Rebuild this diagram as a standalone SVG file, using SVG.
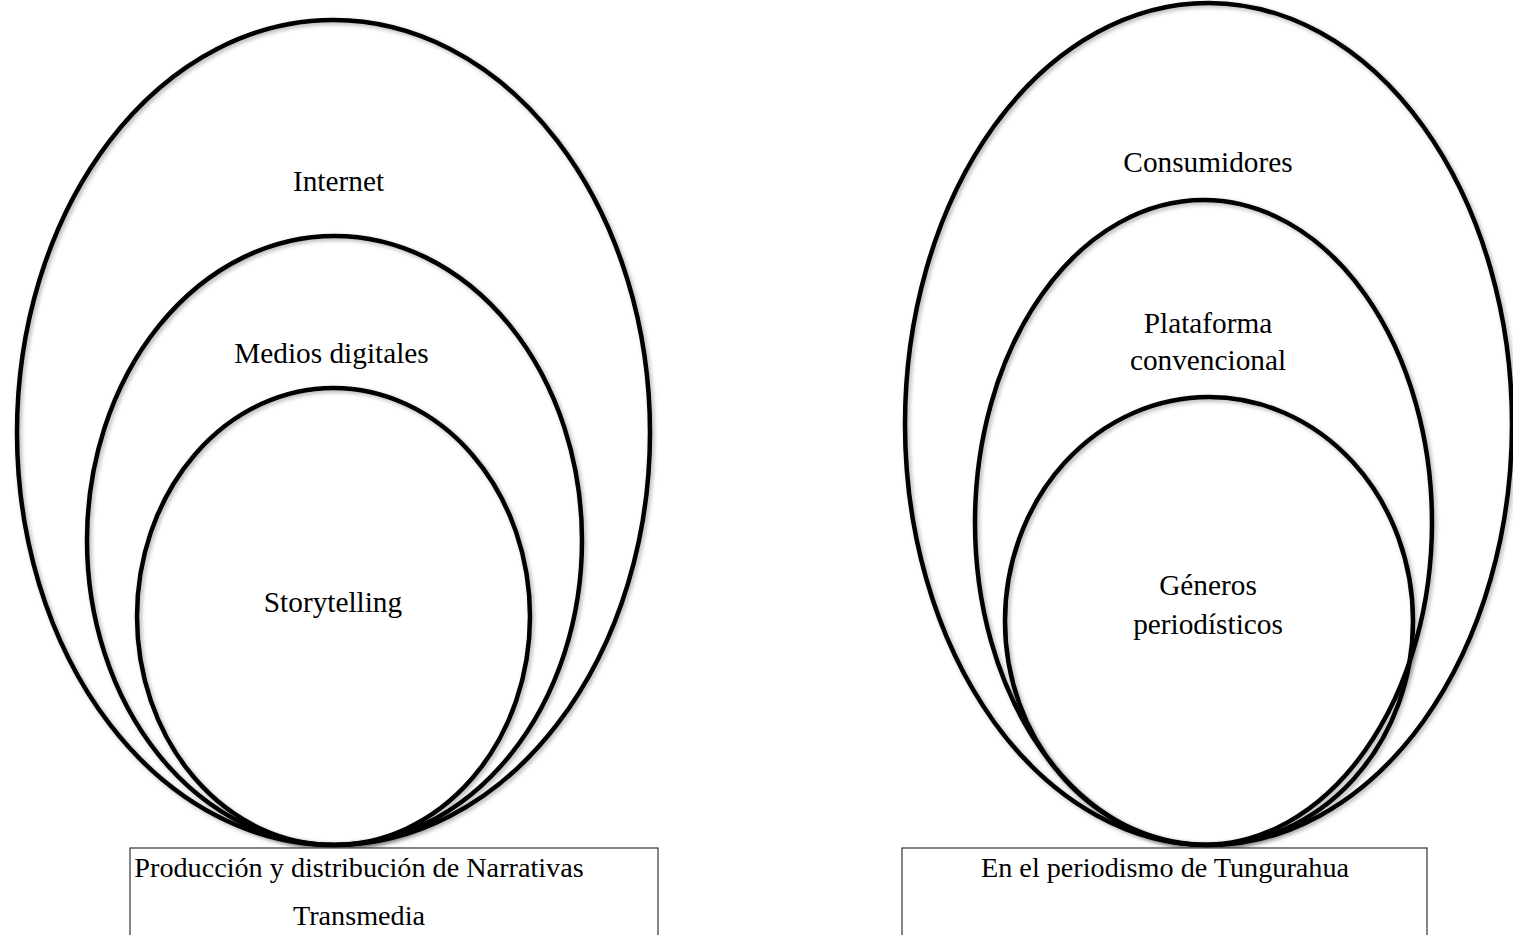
<svg xmlns="http://www.w3.org/2000/svg" width="1513" height="935" viewBox="0 0 1513 935">
<style>
.ring{fill:none;stroke:#000;stroke-width:4.5;filter:url(#sh)}
.box{fill:#fff;stroke:#333;stroke-width:1.2}
text{font-family:"Liberation Serif","Times New Roman",serif;font-size:29.3px;fill:#000;text-anchor:middle}
.bt{font-size:28.2px}
</style>
<defs>
<filter id="sh" x="-5%" y="-5%" width="110%" height="110%">
<feDropShadow dx="2" dy="2" stdDeviation="2" flood-color="#000" flood-opacity="0.3"/>
</filter>
</defs>
<rect width="1513" height="935" fill="#fff"/>
<g id="left-outer"><ellipse class="ring" cx="333.5" cy="432.5" rx="316.5" ry="412.5"/><text x="338.5" y="191">Internet</text></g>
<g id="left-middle"><ellipse class="ring" cx="334.5" cy="540.5" rx="247.5" ry="304.5"/><text x="331.5" y="363">Medios digitales</text></g>
<g id="left-inner"><ellipse class="ring" cx="333.5" cy="616.5" rx="196.5" ry="228.5"/><text x="333" y="612">Storytelling</text></g>
<g id="left-box"><rect class="box" x="130" y="848" width="528" height="95"/><text class="bt" x="359" y="877">Producción y distribución de Narrativas</text><text class="bt" x="359" y="925">Transmedia</text></g>
<g id="right-outer"><ellipse class="ring" cx="1208.5" cy="424" rx="303.5" ry="421"/><text x="1208" y="172">Consumidores</text></g>
<g id="right-middle"><ellipse class="ring" cx="1203.5" cy="522.5" rx="228.5" ry="322.5"/><text x="1208" y="333">Plataforma</text><text x="1208" y="370">convencional</text></g>
<g id="right-inner"><ellipse class="ring" cx="1209" cy="621" rx="204" ry="224"/><text x="1208" y="595">Géneros</text><text x="1208" y="634">periodísticos</text></g>
<g id="right-box"><rect class="box" x="902" y="848" width="525" height="95"/><text class="bt" x="1165" y="877">En el periodismo de Tungurahua</text></g>
<g id="connectors"></g>
</svg>
